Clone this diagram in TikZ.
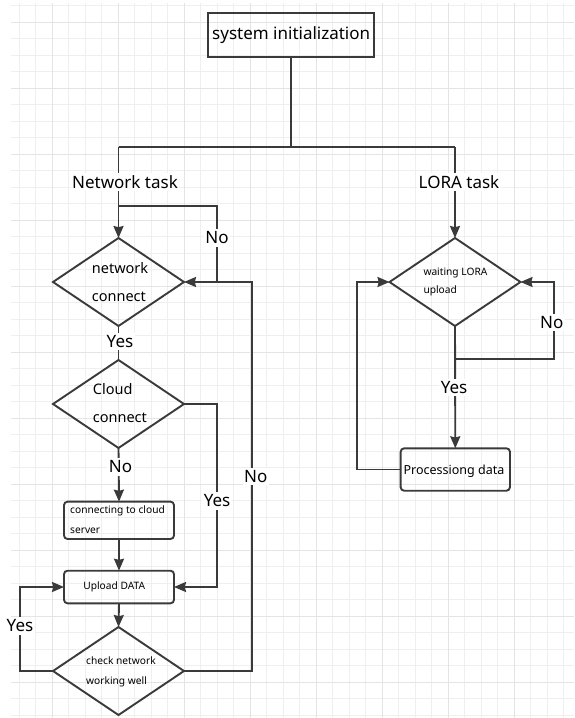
\documentclass[tikz,border=0pt]{standalone}
\usepackage{fontspec}
\setmainfont{Noto Sans}
\usetikzlibrary{arrows.meta,shapes.geometric}
\definecolor{lc}{HTML}{3A3A3A}
\definecolor{gminor}{HTML}{EFEFEF}
\definecolor{gmajor}{HTML}{E4E4E4}
\begin{document}
\begin{tikzpicture}[x=1pt,y=-1pt,
  ln/.style={draw=lc, line width=1.9pt},
  arr/.style={ln, -{Stealth[length=12pt,width=10pt,inset=1.2pt]}},
  lab/.style={fill=white, inner xsep=1.5pt, inner ysep=2.5pt, font=\fontsize{17}{20}\selectfont},
  dia/.style={draw=lc, line width=1.9pt, shape=diamond, inner sep=0pt, outer sep=0pt, minimum width=131pt, minimum height=88pt},
  rbox/.style={draw=lc, line width=1.9pt, rounded corners=3.5pt, inner sep=0pt, outer sep=0pt},
  tsmall/.style={inner sep=0pt, align=left},
]
\useasboundingbox (0,0) rectangle (574,718);
\fill[white] (0,0) rectangle (574,718);
% grid
\foreach \xx in {19.3,35.8,...,574} \draw[gminor, line width=1pt] (\xx,3) -- (\xx,718);
\foreach \yy in {5.8,22.3,...,718} \draw[gminor, line width=1pt] (11,\yy) -- (574,\yy);
\foreach \xx in {52.3,118.3,...,574} \draw[gmajor, line width=1.3pt] (\xx,3) -- (\xx,718);
\foreach \yy in {22.3,88.3,...,718} \draw[gmajor, line width=1.3pt] (11,\yy) -- (574,\yy);

% nodes
\node[draw=lc, line width=1.9pt, minimum width=165.7pt, minimum height=44pt, inner sep=0pt, outer sep=0pt, font=\fontsize{17}{20}\selectfont] (init) at (291.2,34.7) {system initialization};
\node[dia] (net) at (118.5,282) {};
\node[dia] (cloud) at (118.5,404) {};
\node[rbox, minimum width=110pt, minimum height=37.3pt] (conn) at (119,520.3) {};
\node[rbox, minimum width=110pt, minimum height=32.6pt] (upload) at (119,587) {};
\node[dia] (check) at (118.5,671) {};
\node[dia] (wait) at (455,282) {};
\node[rbox, minimum width=109.3pt, minimum height=42.4pt] (proc) at (455.3,469.5) {};

% texts
\node[tsmall, anchor=west, font=\fontsize{14.5}{27.7}\selectfont] (nettxt) at (91.7,282) {network\\connect};
\node[tsmall, anchor=west, font=\fontsize{14.5}{27.7}\selectfont] (cloudtxt) at (92.7,403) {Cloud\\ connect};
\node[tsmall, anchor=west, font=\fontsize{10.2}{19.3}\selectfont] (conntxt) at (70,519.7) {connecting to cloud\\server};
\node[tsmall, font=\fontsize{10.2}{12}\selectfont] (uptxt) at (114.2,587.3) {Upload DATA};
\node[tsmall, anchor=west, font=\fontsize{10.2}{19.7}\selectfont] (checktxt) at (86,672) {check network\\working well};
\node[tsmall, anchor=west, font=\fontsize{10.2}{18.3}\selectfont] (waittxt) at (423.3,282) {waiting LORA\\upload};
\node[tsmall, font=\fontsize{12.5}{14}\selectfont] (proctxt) at (454,471.7) {Processiong data};

% coordinates
\coordinate (split) at (291.2,146.7);
\coordinate (nl) at (118.5,146.7);
\coordinate (lr) at (455,146.7);
\coordinate (n1) at (118.5,206);
\coordinate (n2) at (217,206);
\coordinate (n3) at (217,282);
\coordinate (r1) at (252,282);
\coordinate (r2) at (252,671);
\coordinate (c2) at (217,587);
\coordinate (y1) at (20,587);
\coordinate (ly1) at (455,359.3);
\coordinate (ly2) at (554.3,282);
\coordinate (lx) at (356.7,282);

% connectors
\draw[ln] (init.south) -- (split);
\draw[ln] (nl) -- (lr);
\draw[arr] (nl) -- (net.north);
\draw[ln] (n1) -- (n2) -- (n3);
\draw[arr] (check.east) -- (r2) -- (r1) -- (net.east);
\draw[ln] (net.south) -- (cloud.north);
\draw[arr] (cloud.south) -- (conn.north);
\draw[arr] (cloud.east) -| (c2) -- (upload.east);
\draw[arr] (conn.south) -- (upload.north);
\draw[arr] (upload.south) -- (check.north);
\draw[arr] (check.west) -| (y1) -- (upload.west);
\draw[arr] (lr) -- (wait.north);
\draw[arr] (wait.south) -- (proc.north);
\draw[arr] (ly1) -| (ly2) -- (wait.east);
\draw[arr] (proc.west) -| (lx) -- (wait.west);

% labels
\node[lab] (lnet) at (125,181.7) {Network task};
\node[lab] (llora) at (459,182.3) {LORA task};
\node[lab] (lno1) at (217,238) {No};
\node[lab] (lyes1) at (120,341.7) {Yes};
\node[lab] (lno2) at (120.5,467) {No};
\node[lab] (lyes2) at (217,501) {Yes};
\node[lab] (lno3) at (255.7,476.7) {No};
\node[lab] (lyes3) at (20,626) {Yes};
\node[lab] (lno4) at (551.7,322.7) {No};
\node[lab] (lyes4) at (454,387.3) {Yes};
\end{tikzpicture}
\end{document}
